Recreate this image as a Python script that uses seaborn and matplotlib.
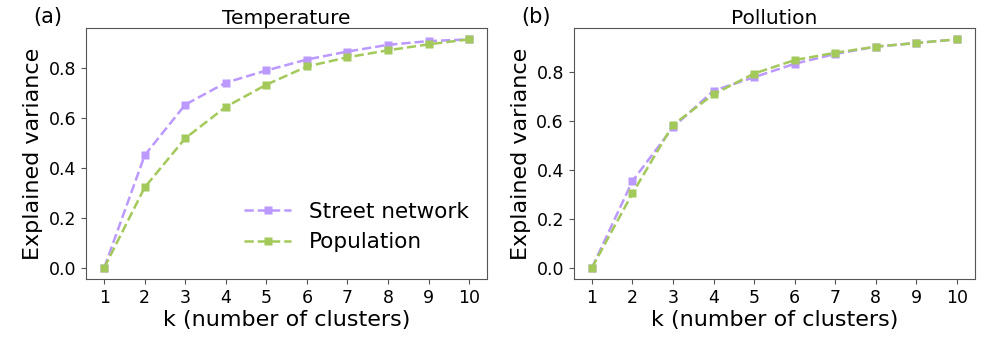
import matplotlib
matplotlib.use('Agg')
import matplotlib.pyplot as plt
import seaborn as sns
import pandas as pd

# Data
k = [1, 2, 3, 4, 5, 6, 7, 8, 9, 10]
temp_street = [0.0, 0.452, 0.655, 0.743, 0.792, 0.836, 0.868, 0.895, 0.910, 0.917]
temp_population = [0.0, 0.323, 0.520, 0.646, 0.735, 0.808, 0.845, 0.873, 0.897, 0.917]
poll_street = [0.0, 0.355, 0.575, 0.725, 0.780, 0.835, 0.875, 0.905, 0.920, 0.935]
poll_population = [0.0, 0.305, 0.585, 0.710, 0.795, 0.850, 0.880, 0.905, 0.920, 0.935]

titles = ['Temperature', 'Pollution']
panel_labels = ['(a)', '(b)']
colors = {'Street network': '#bb99ff', 'Population': '#a3c95a'}

sns.set_style('ticks', {'axes.edgecolor': '#555555', 'xtick.color': '#555555',
                        'ytick.color': '#555555', 'text.color': 'black',
                        'axes.labelcolor': 'black'})
plt.rcParams['font.family'] = ['DejaVu Sans']

fig, axes = plt.subplots(1, 2, figsize=(9.96, 3.49), dpi=100)

panels = [(temp_street, temp_population), (poll_street, poll_population)]
for i, (ax, (street, pop)) in enumerate(zip(axes, panels)):
    df = pd.DataFrame({
        'k': k * 2,
        'value': street + pop,
        'series': ['Street network'] * len(k) + ['Population'] * len(k),
    })
    sns.lineplot(data=df, x='k', y='value', hue='series', palette=colors,
                 marker='s', markersize=6, markeredgecolor='none',
                 linewidth=1.8, ax=ax, legend=(i == 0))
    for line in ax.get_lines():
        line.set_linestyle('--')
    ax.set_title(titles[i], fontsize=14.5, pad=3)
    ax.set_xlabel('k (number of clusters)', fontsize=16, labelpad=2)
    ax.set_ylabel('Explained variance', fontsize=16)
    ax.set_xticks(k)
    ax.set_yticks([0.0, 0.2, 0.4, 0.6, 0.8])
    ax.tick_params(labelsize=12.5, labelcolor='black')
    ax.text(-0.058, 1.018, panel_labels[i], transform=ax.transAxes,
            fontsize=15, ha='right', va='baseline')

leg = axes[0].legend(loc='lower right', bbox_to_anchor=(0.985, 0.055),
                     frameon=False, fontsize=15.5, handlelength=2.2,
                     borderaxespad=0.2)
for h in leg.get_lines():
    h.set_linestyle('--')

plt.subplots_adjust(left=0.0863, right=0.979, top=0.92, bottom=0.2, wspace=0.215)
fig.savefig('out.png', dpi=100)
